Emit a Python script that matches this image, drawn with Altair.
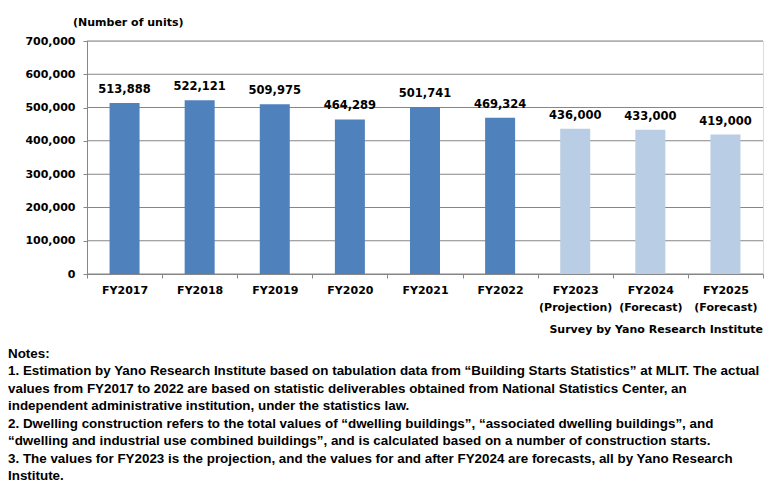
import altair as alt
import pandas as pd

categories = ["FY2017", "FY2018", "FY2019", "FY2020", "FY2021", "FY2022",
              "FY2023|(Projection)", "FY2024|(Forecast)", "FY2025|(Forecast)"]
values = [513888, 522121, 509975, 464289, 501741, 469324, 436000, 433000, 419000]
kinds = ["Actual"] * 6 + ["Forecast"] * 3
labels = [f"{v:,}" for v in values]
ticks = [0, 100000, 200000, 300000, 400000, 500000, 600000, 700000]

notes = [
    "Notes:",
    "1. Estimation by Yano Research Institute based on tabulation data from \u201cBuilding Starts Statistics\u201d at MLIT. The actual",
    "values from FY2017 to 2022 are based on statistic deliverables obtained from National Statistics Center, an",
    "independent administrative institution, under the statistics law.",
    "2. Dwelling construction refers to the total values of \u201cdwelling buildings\u201d, \u201cassociated dwelling buildings\u201d, and",
    "\u201cdwelling and industrial use combined buildings\u201d, and is calculated based on a number of construction starts.",
    "3. The values for FY2023 is the projection, and the values for and after FY2024 are forecasts, all by Yano Research",
    "Institute.",
]

df = pd.DataFrame({"cat": categories, "value": values, "kind": kinds, "label": labels})
gdf = pd.DataFrame({"value": ticks})

FONT = "DejaVu Sans"
W, H = 676, 233

x = alt.X("cat:N", sort=categories, title=None,
          scale=alt.Scale(paddingInner=0, paddingOuter=0),
          axis=alt.Axis(labelAngle=0, labelExpr="split(datum.label, '|')",
                        labelFont=FONT, labelFontSize=11, labelFontWeight="bold",
                        labelColor="#000", labelPadding=6, labelLineHeight=17,
                        tickBand="extent", ticks=True, tickSize=4, tickColor="#868686",
                        domainColor="#868686", grid=False))
y = alt.Y("value:Q", title=None,
          scale=alt.Scale(domain=[0, 700000], nice=False),
          axis=alt.Axis(values=ticks, format=",.0f",
                        labelFont=FONT, labelFontSize=11, labelFontWeight="bold",
                        labelColor="#000", labelPadding=8, tickSize=4,
                        tickColor="#868686", domainColor="#868686", grid=False))

grid = alt.Chart(gdf).mark_tick(
    size=W, thickness=1, color="#868686", opacity=1, orient="horizontal"
).encode(y=y, x=alt.value(W / 2))

bars = alt.Chart(df).mark_bar(size=30).encode(
    x=x, y=y,
    color=alt.Color("kind:N", scale=alt.Scale(domain=["Actual", "Forecast"],
                                              range=["#4F81BD", "#B9CDE5"]), legend=None),
)

text = alt.Chart(df).mark_text(
    font=FONT, fontSize=11.5, fontWeight="bold", color="#000",
    baseline="middle", dy=-13,
).encode(x=x, y=y, text="label:N")

one = pd.DataFrame({"k": [0]})
ytitle = alt.Chart(one).mark_text(
    text="(Number of units)",
    font=FONT, fontSize=11, fontWeight="bold", color="#000", align="left", baseline="middle"
).encode(x=alt.value(-14), y=alt.value(-18))

source = alt.Chart(one).mark_text(
    text="Survey by Yano Research Institute",
    font=FONT, fontSize=11, fontWeight="bold", color="#000", align="right", baseline="middle"
).encode(x=alt.value(W), y=alt.value(289))

notes_layer = alt.Chart(one).mark_text(
    text=notes, lineHeight=17.45,
    font="Liberation Sans", fontSize=13.4, fontWeight="bold", color="#000",
    align="left", baseline="middle"
).encode(x=alt.value(-79), y=alt.value(313))

chart = alt.layer(grid, bars, text, ytitle, source, notes_layer).properties(
    width=W, height=H,
    autosize=alt.AutoSizeParams(type="none"),
    padding={"left": 79, "top": 33, "right": 7, "bottom": 208},
).configure_view(strokeWidth=0).configure(background="white")

chart.save("out.html", embed_options={"renderer": "svg", "actions": False})
